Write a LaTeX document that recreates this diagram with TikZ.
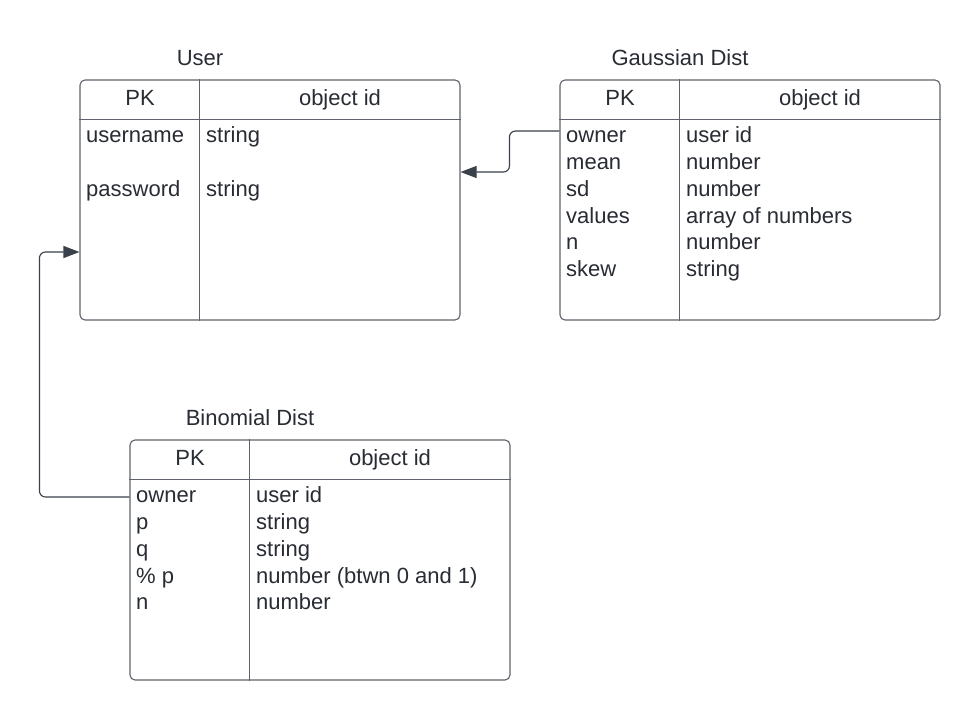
\documentclass[tikz,border=0pt]{standalone}
\usepackage{fontspec}
\setmainfont{Liberation Sans}
\usetikzlibrary{arrows.meta}
\definecolor{tline}{HTML}{5E636B}
\definecolor{cline}{HTML}{3A414A}
\definecolor{ttext}{HTML}{282C33}
\begin{document}
\begin{tikzpicture}[x=1pt,y=-1pt,
  tbl/.style={draw=tline,line width=1.1pt,rounded corners=5pt,minimum width=380pt,minimum height=240pt,inner sep=0pt},
  grid/.style={draw=tline,line width=1.1pt},
  txt/.style={anchor=base west,inner sep=0pt,text=ttext,font=\fontsize{22}{26}\selectfont},
  hdr/.style={anchor=base,inner sep=0pt,text=ttext,font=\fontsize{22}{26}\selectfont},
  conn/.style={draw=cline,line width=1.1pt,rounded corners=6pt,-{Triangle[length=16pt,width=12pt]}}]
\useasboundingbox (0,0) rectangle (980,720);
\fill[white] (0,0) rectangle (980,720);
% tables
\node[tbl] (user) at (270,200) {};
\node[tbl] (gauss) at (750,200) {};
\node[tbl] (binom) at (320,560) {};
\foreach \t in {user,gauss,binom}{
  \draw[grid] ([xshift=120pt]\t.north west) -- ([xshift=120pt]\t.south west);
  \draw[grid] ([yshift=-40pt]\t.north west) -- ([yshift=-40pt]\t.north east);
}
% titles
\node[hdr] (utitle) at (200,65) {User};
\node[hdr] (gtitle) at (680,65) {Gaussian Dist};
\node[hdr] (btitle) at (250,425) {Binomial Dist};
% headers
\node[hdr] (upk) at (140,105) {PK};
\node[hdr] (uoid) at (340,105) {object id};
\node[hdr] (gpk) at (620,105) {PK};
\node[hdr] (goid) at (820,105) {object id};
\node[hdr] (bpk) at (190,465) {PK};
\node[hdr] (boid) at (390,465) {object id};
% user rows
\node[txt] (u1a) at (86,142.7) {username};
\node[txt] (u1b) at (206,142.7) {string};
\node[txt] (u2a) at (86,196.3) {password};
\node[txt] (u2b) at (206,196.3) {string};
% gaussian rows
\node[txt] (g1a) at (566,142.7) {owner};
\node[txt] (g1b) at (686,142.7) {user id};
\node[txt] (g2a) at (566,169.5) {mean};
\node[txt] (g2b) at (686,169.5) {number};
\node[txt] (g3a) at (566,196.3) {sd};
\node[txt] (g3b) at (686,196.3) {number};
\node[txt] (g4a) at (566,223.1) {values};
\node[txt] (g4b) at (686,223.1) {array of numbers};
\node[txt] (g5a) at (566,249.9) {n};
\node[txt] (g5b) at (686,249.9) {number};
\node[txt] (g6a) at (566,276.7) {skew};
\node[txt] (g6b) at (686,276.7) {string};
% binomial rows
\node[txt] (b1a) at (136,502.7) {owner};
\node[txt] (b1b) at (256,502.7) {user id};
\node[txt] (b2a) at (136,529.5) {p};
\node[txt] (b2b) at (256,529.5) {string};
\node[txt] (b3a) at (136,556.3) {q};
\node[txt] (b3b) at (256,556.3) {string};
\node[txt] (b4a) at (136,583.1) {\% p};
\node[txt] (b4b) at (256,583.1) {number (btwn 0 and 1)};
\node[txt] (b5a) at (136,609.9) {n};
\node[txt] (b5b) at (256,609.9) {number};
% connectors
\draw[conn] ([yshift=69pt]gauss.west) -- ++(-50,0) |- ([yshift=28pt]user.east);
\draw[conn] ([yshift=63pt]binom.west) -- ++(-90,0) |- ([yshift=-52pt]user.west);
\end{tikzpicture}
\end{document}
